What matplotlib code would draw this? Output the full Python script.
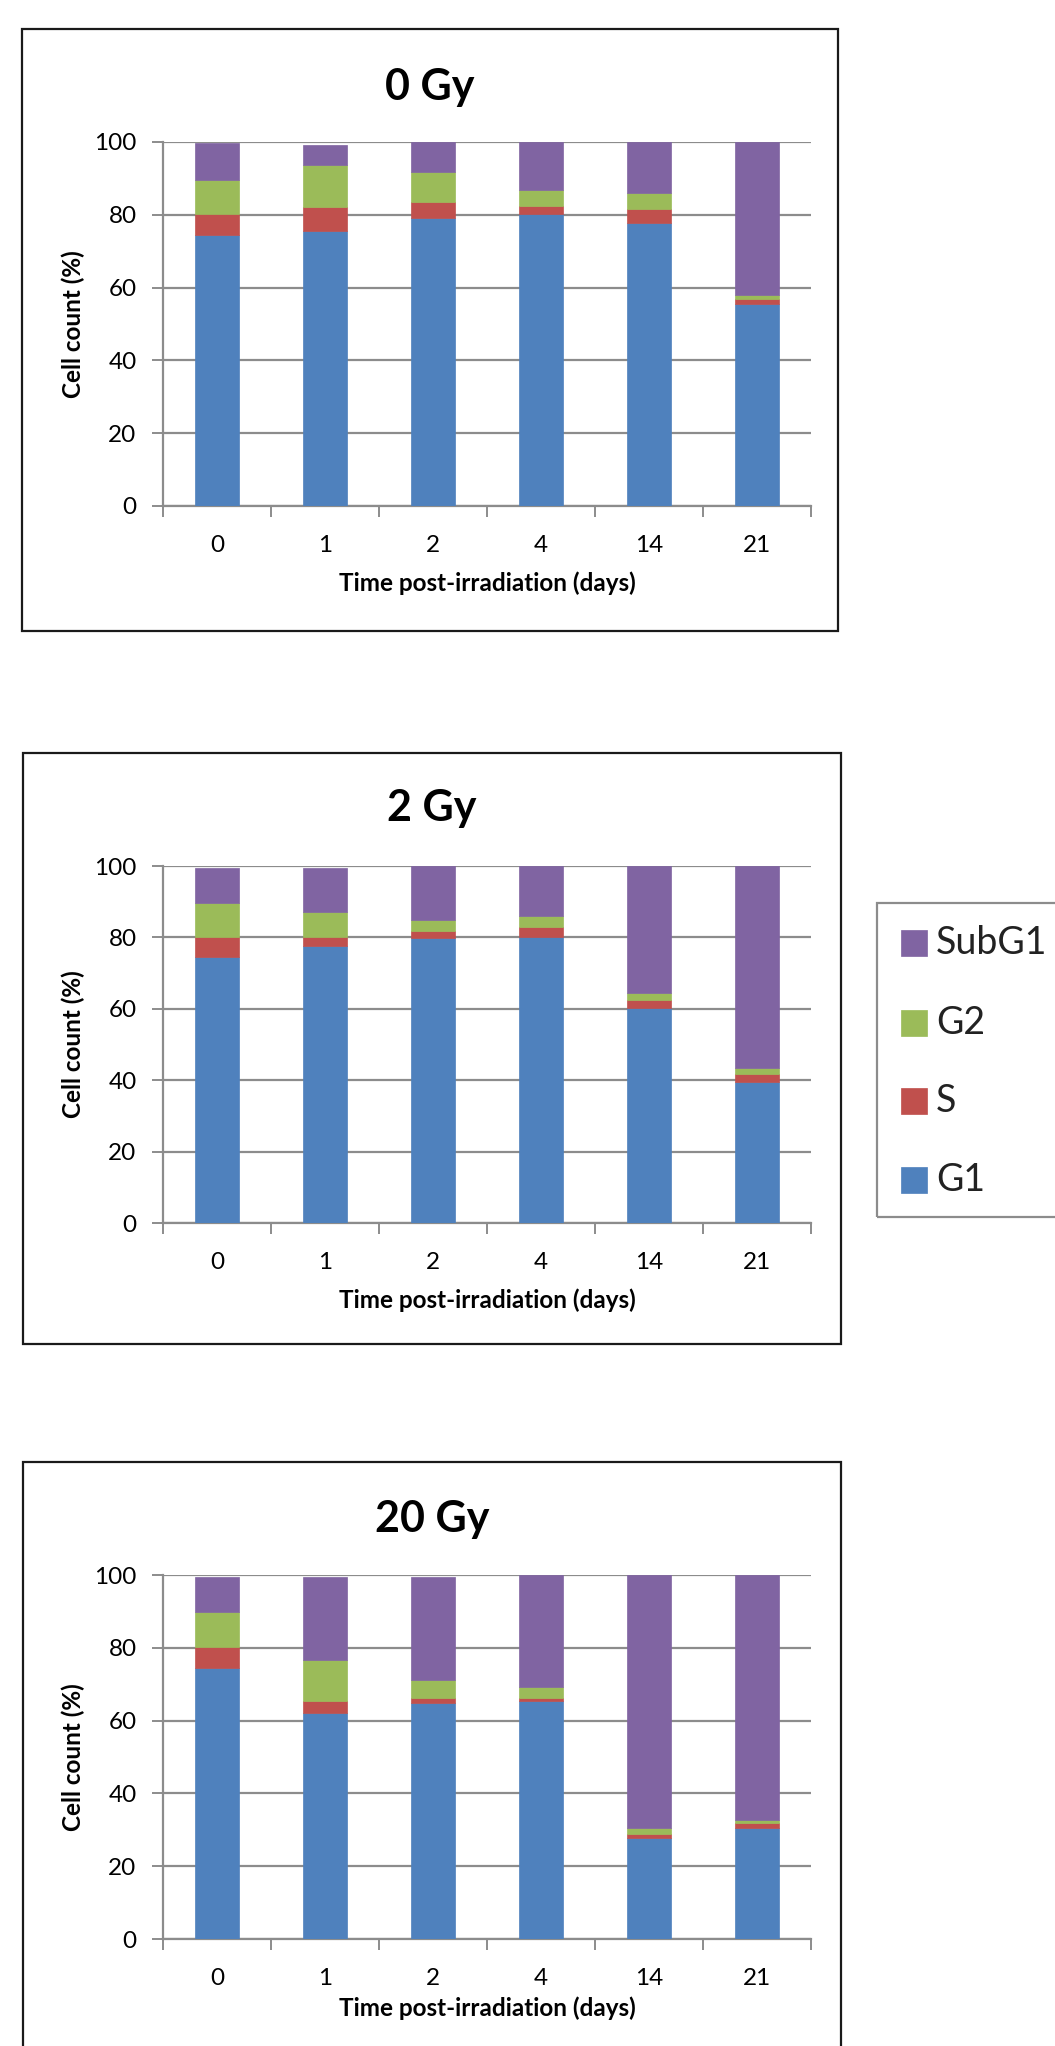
import numpy as np
import matplotlib
matplotlib.use("Agg")
import matplotlib.pyplot as plt
from matplotlib.patches import Rectangle
from matplotlib.ticker import FixedLocator


# ======================
# Data
# ======================

days = ["0", "1", "2", "4", "14", "21"]
doses = ["0 Gy", "2 Gy", "20 Gy"]
phases = ["G1", "S", "G2", "SubG1"]

g1 = [
    [74.5, 75.5, 79.0, 80.1, 77.8, 55.4],
    [74.4, 77.5, 79.7, 80.0, 60.2, 39.6],
    [74.5, 62.0, 64.7, 65.3, 27.7, 30.4],
]
s_phase = [
    [5.6, 6.6, 4.5, 2.3, 3.7, 1.4],
    [5.7, 2.6, 2.2, 2.8, 2.2, 2.1],
    [5.7, 3.5, 1.6, 1.0, 1.2, 1.5],
]
g2 = [
    [9.5, 11.7, 8.3, 4.3, 4.4, 1.3],
    [9.6, 6.9, 2.9, 3.2, 1.9, 1.7],
    [9.5, 11.1, 4.9, 2.9, 1.7, 0.8],
]
subg1 = [
    [10.0, 5.5, 8.2, 13.3, 14.1, 41.9],
    [9.8, 12.5, 15.2, 14.0, 35.7, 56.6],
    [9.8, 22.9, 28.3, 30.8, 69.4, 67.3],
]

colors = ["#4F81BD", "#C0504D", "#9BBB59", "#8064A2"]


# ======================
# Figure / layout (pixels)
# ======================

W, H = 1055, 2046
plt.rcParams["font.family"] = ["Lato", "DejaVu Sans"]

fig = plt.figure(figsize=(W / 100, H / 100), dpi=100)

# plot area per panel: left, top, right, bottom
axes_px = [(163, 142, 811, 506), (163, 866, 811, 1223), (163, 1575, 811, 1939)]
# chart frame per panel: left, top, right, bottom
frame_px = [(22, 29, 838, 631), (23, 753, 841, 1344), (23, 1462, 841, 2080)]
title_y = [87, 808, 1519]
xlabel_y = [583, 1300, 2008]

grid_col = "#8C8C8C"


def fx(px):
    return px / W


def fy(py):
    return 1 - py / H


for k in range(3):
    fl, ft, fr, fb = frame_px[k]
    fig.patches.append(Rectangle((fx(fl), fy(fb)), fx(fr - fl), (fb - ft) / H,
                                 transform=fig.transFigure, fill=False,
                                 edgecolor="#1a1a1a", linewidth=1.6, zorder=0))

    l, t, r, b = axes_px[k]
    ax = fig.add_axes([fx(l), fy(b), fx(r - l), (b - t) / H])

    x = np.arange(len(days))
    bottom = np.zeros(len(days))
    for vals, col in zip([g1[k], s_phase[k], g2[k], subg1[k]], colors):
        vals = np.array(vals)
        ax.bar(x, vals, width=0.4, bottom=bottom, color=col,
               edgecolor=col, linewidth=0.5, zorder=3)
        bottom += vals

    ax.set_xlim(-0.5, len(days) - 0.5)
    ax.set_ylim(0, 100)
    ax.set_yticks(np.arange(0, 101, 20))
    ax.yaxis.grid(True, color=grid_col, linewidth=1.6, zorder=0)
    ax.set_axisbelow(True)

    ax.set_xticks(x)
    ax.set_xticklabels(days)
    ax.xaxis.set_minor_locator(FixedLocator(np.arange(-0.5, len(days), 1.0)))
    ax.tick_params(axis="x", which="major", length=0, pad=21, labelsize=17.5)
    ax.tick_params(axis="x", which="minor", length=8, width=1.4,
                   color=grid_col, direction="out")
    ax.tick_params(axis="y", length=8, width=1.4, color=grid_col,
                   direction="out", pad=11, labelsize=17.5)

    for side in ["top", "right"]:
        ax.spines[side].set_visible(False)
    for side in ["left", "bottom"]:
        ax.spines[side].set_color(grid_col)
        ax.spines[side].set_linewidth(1.6)

    fig.text(fx((fl + fr) / 2), fy(title_y[k]), doses[k], ha="center",
             va="center", fontsize=31, fontweight="bold")
    fig.text(fx((l + r) / 2), fy(xlabel_y[k]), "Time post-irradiation (days)",
             ha="center", va="center", fontsize=17.5, fontweight="bold")
    fig.text(fx(73), fy((t + b) / 2), "Cell count (%)", rotation=90,
             ha="center", va="center", fontsize=17.5, fontweight="bold")


# ======================
# Legend (SubG1 on top, G1 at bottom)
# ======================

leg_left, leg_top, leg_bottom = 877, 903, 1217
fig.patches.append(Rectangle((fx(leg_left), fy(leg_bottom)), fx(400),
                             (leg_bottom - leg_top) / H,
                             transform=fig.transFigure, fill=False,
                             edgecolor=grid_col, linewidth=1.6, zorder=0))

entry_y = [1180, 1101, 1023, 943]
sq = 26
for name, col, ey in zip(phases, colors, entry_y):
    fig.patches.append(Rectangle((fx(901), fy(ey + sq / 2)), fx(sq), sq / H,
                                 transform=fig.transFigure, facecolor=col,
                                 edgecolor=col, linewidth=0.5))
    fig.text(fx(936), fy(ey), name, ha="left", va="center",
             fontsize=27, color="#222222")

plt.savefig("out.png", dpi=100)
